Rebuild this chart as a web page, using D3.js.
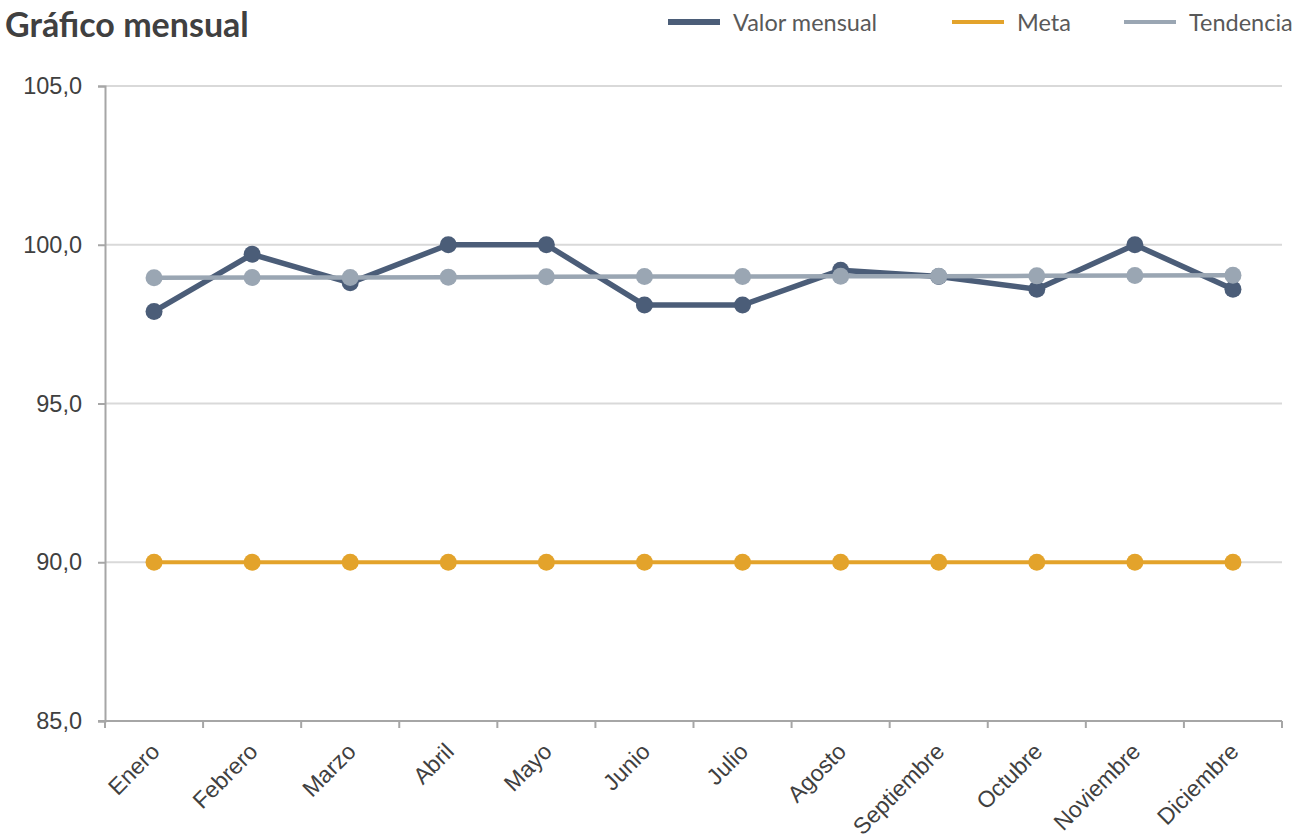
<!DOCTYPE html>
<html>
<head>
<meta charset="utf-8">
<script src="https://cdn.jsdelivr.net/npm/d3@7"></script>
<style>
  body { margin: 0; background: #fff; }
  svg { display: block; }
</style>
</head>
<body>
<div id="chart"></div>
<script>
var width = 1299, height = 836;

// data
var months = ['Enero', 'Febrero', 'Marzo', 'Abril', 'Mayo', 'Junio', 'Julio', 'Agosto', 'Septiembre', 'Octubre', 'Noviembre', 'Diciembre'];
var valorMensual = [97.9, 99.7, 98.8, 100.0, 100.0, 98.1, 98.1, 99.2, 99.0, 98.6, 100.0, 98.6];
var meta = [90, 90, 90, 90, 90, 90, 90, 90, 90, 90, 90, 90];
var tendencia = [98.96, 98.97, 98.97, 98.98, 98.99, 99.0, 99.0, 99.01, 99.01, 99.02, 99.03, 99.04];
var yTicks = [85, 90, 95, 100, 105];

var series = [
  { name: 'Valor mensual', values: valorMensual, color: '#4b5d78', width: 5.5, legendWidth: 6 },
  { name: 'Meta', values: meta, color: '#e3a32b', width: 4, legendWidth: 4 },
  { name: 'Tendencia', values: tendencia, color: '#9aa6b3', width: 4.5, legendWidth: 4 }
];

var margin = { left: 105, right: 17, top: 86, bottom: 115 };

var svg = d3.select('#chart').append('svg')
    .attr('width', width)
    .attr('height', height);

var x = d3.scaleBand()
    .domain(months)
    .range([margin.left, width - margin.right]);

var y = d3.scaleLinear()
    .domain([85, 105])
    .range([height - margin.bottom, margin.top]);

var comma = d3.formatLocale({ decimal: ',', thousands: '.', grouping: [3], currency: ['', '€'] }).format('.1f');

// gridlines
svg.append('g')
    .selectAll('line')
    .data(yTicks.slice(1))
    .enter().append('line')
    .attr('x1', margin.left)
    .attr('x2', width - margin.right)
    .attr('y1', function(d) { return y(d); })
    .attr('y2', function(d) { return y(d); })
    .style('stroke', '#d9d9d9')
    .style('stroke-width', 2);

// y axis
var yAxis = svg.append('g')
    .attr('transform', 'translate(' + margin.left + ',0)')
    .call(d3.axisLeft(y).tickValues(yTicks).tickFormat(comma).tickSize(7).tickPadding(16));
yAxis.select('.domain').style('stroke', '#a6a6a6').style('stroke-width', 2);
yAxis.selectAll('.tick line').style('stroke', '#a6a6a6').style('stroke-width', 2);
yAxis.selectAll('text')
    .style('font-family', '"Liberation Sans", Arial, sans-serif')
    .style('font-size', '23.5px')
    .style('fill', '#404040');

// x axis: line plus ticks at band edges
var xAxis = svg.append('g');
var y0 = y(85);
xAxis.append('line')
    .attr('x1', margin.left - 7)
    .attr('x2', width - margin.right)
    .attr('y1', y0)
    .attr('y2', y0)
    .style('stroke', '#a6a6a6')
    .style('stroke-width', 2);
var edges = months.map(function(m) { return x(m); }).concat([x.range()[1]]);
xAxis.selectAll('.xtick')
    .data(edges)
    .enter().append('line')
    .attr('class', 'xtick')
    .attr('x1', function(d) { return d; })
    .attr('x2', function(d) { return d; })
    .attr('y1', y0)
    .attr('y2', y0 + 7)
    .style('stroke', '#a6a6a6')
    .style('stroke-width', 2);
xAxis.selectAll('.xlabel')
    .data(months)
    .enter().append('text')
    .attr('class', 'xlabel')
    .attr('transform', function(d) {
        return 'translate(' + (x(d) + x.bandwidth() / 2 + 7) + ',' + (y0 + 32) + ') rotate(-45)';
    })
    .attr('text-anchor', 'end')
    .style('font-family', '"Liberation Sans", Arial, sans-serif')
    .style('font-size', '23px')
    .style('fill', '#404040')
    .text(function(d) { return d; });

// lines and markers
var line = d3.line()
    .x(function(d, i) { return x(months[i]) + x.bandwidth() / 2; })
    .y(function(d) { return y(d); });

series.forEach(function(s) {
    var g = svg.append('g');
    g.append('path')
        .datum(s.values)
        .attr('d', line)
        .style('fill', 'none')
        .style('stroke', s.color)
        .style('stroke-width', s.width)
        .style('stroke-linejoin', 'round');
    g.selectAll('circle')
        .data(s.values)
        .enter().append('circle')
        .attr('cx', function(d, i) { return x(months[i]) + x.bandwidth() / 2; })
        .attr('cy', function(d) { return y(d); })
        .attr('r', 8.5)
        .style('fill', s.color);
});

// title
svg.append('text')
    .attr('x', 5)
    .attr('y', 37)
    .style('font-family', 'Lato, "Open Sans", sans-serif')
    .style('font-weight', 'bold')
    .style('font-size', '34px')
    .style('fill', '#404040')
    .text('Gráfico mensual');

// legend
var legendX = [668, 952, 1124];
var legend = svg.append('g');
series.forEach(function(s, i) {
    legend.append('line')
        .attr('x1', legendX[i])
        .attr('x2', legendX[i] + 52)
        .attr('y1', 22)
        .attr('y2', 22)
        .style('stroke', s.color)
        .style('stroke-width', s.legendWidth);
    legend.append('text')
        .attr('x', legendX[i] + 65)
        .attr('y', 31)
        .style('font-family', 'Lato, "Open Sans", sans-serif')
        .style('font-size', '23.5px')
        .style('fill', '#595959')
        .text(s.name);
});
</script>
</body>
</html>
